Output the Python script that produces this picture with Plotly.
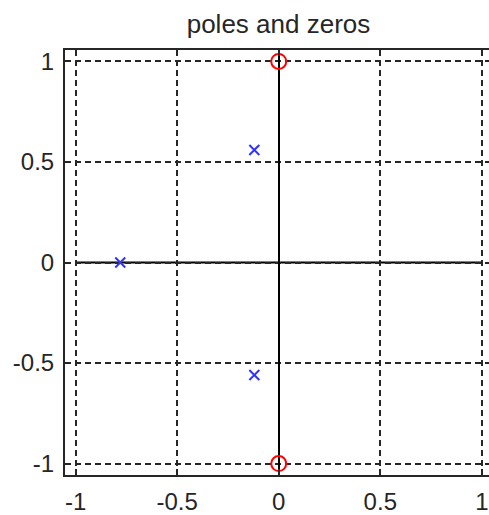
import plotly.graph_objects as go

# Data
pole_re = [-0.78, -0.12, -0.12]
pole_im = [0.0, 0.56, -0.56]
zero_re = [0.0, 0.0]
zero_im = [1.0, -1.0]
tick_vals = [-1, -0.5, 0, 0.5, 1]
tick_text = ["-1", "-0.5", "0", "0.5", "1"]

INK = "#262626"
FONT = "Liberation Sans, Arial, sans-serif"

fig = go.Figure()
fig.add_trace(go.Scatter(
    x=pole_re, y=pole_im, mode="markers",
    marker=dict(symbol="x-thin", size=10, line=dict(color="#3333ff", width=2)),
    showlegend=False, hoverinfo="skip"))
fig.add_trace(go.Scatter(
    x=zero_re, y=zero_im, mode="markers",
    marker=dict(symbol="circle-open", size=15, color="red", line=dict(color="red", width=2)),
    showlegend=False, hoverinfo="skip"))

# horizontal real-axis line spanning -1..1
fig.add_shape(type="line", xref="x", yref="y", x0=tick_vals[0], x1=tick_vals[-1], y0=0, y1=0,
              line=dict(color="black", width=2), layer="below")

fig.update_layout(
    width=489, height=515,
    margin=dict(l=65, r=0, t=50, b=36),
    paper_bgcolor="white", plot_bgcolor="white",
    title=dict(text="poles and zeros", x=0.5695, xanchor="center", y=1 - 24/515, yanchor="middle",
               font=dict(family=FONT, size=26, color=INK)),
    font=dict(family=FONT, color=INK),
    showlegend=False,
)
grid = dict(showgrid=True, gridcolor=INK, griddash="6px,4px", gridwidth=1.5)
fig.update_xaxes(range=[-1.052, 1.035], tickvals=tick_vals, ticktext=tick_text,
                 ticks="inside", ticklen=6, tickwidth=1.5, tickcolor=INK,
                 showline=True, linecolor=INK, linewidth=2, mirror="ticks",
                 zeroline=True, zerolinecolor="black", zerolinewidth=2,
                 tickfont=dict(size=24, color=INK), ticklabelstandoff=4, **grid)
fig.update_yaxes(range=[-1.057, 1.057], tickvals=tick_vals, ticktext=tick_text,
                 ticks="inside", ticklen=6, tickwidth=1.5, tickcolor=INK,
                 showline=True, linecolor=INK, linewidth=2, mirror=False,
                 zeroline=False,
                 tickfont=dict(size=24, color=INK), ticklabelstandoff=4, **grid)

fig.write_html("out.html")
